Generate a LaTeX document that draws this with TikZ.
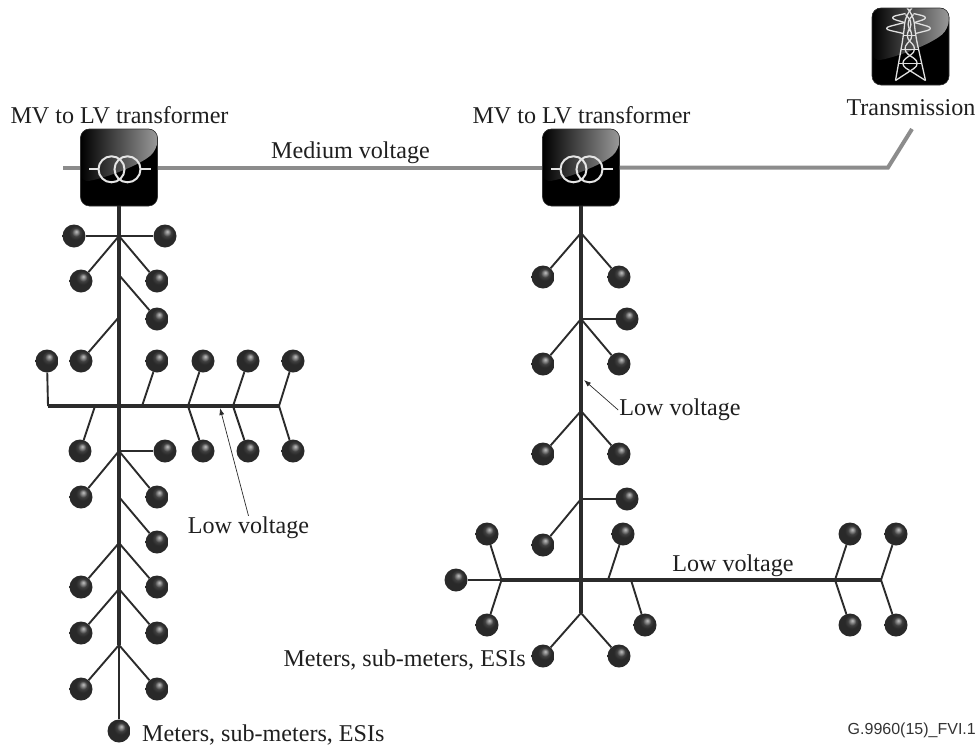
\documentclass[tikz,border=0pt]{standalone}
\usepackage{fontspec}
\setmainfont{Liberation Serif}
\newfontfamily\figid{Liberation Sans}
\usetikzlibrary{arrows.meta}
\definecolor{ink}{HTML}{2B2B2B}
\definecolor{mvgray}{HTML}{8C8C8C}
\pgfdeclareradialshading{metal}{\pgfpoint{5bp}{10bp}}{%
  color(0bp)=(black!25);color(3bp)=(black!40);color(9bp)=(black!75);color(15bp)=(black!84);color(50bp)=(black!84)}
\tikzset{
  x=1pt,y=-1pt,
  meter/.style={circle,minimum size=23pt,inner sep=0pt,shading=metal},
  trunk/.style={draw=ink,line width=3.2pt},
  branch/.style={draw=ink,line width=1.9pt},
  mvline/.style={draw=mvgray,line width=4pt,line join=miter},
  leader/.style={draw=ink,line width=0.7pt,-{Latex[length=7pt,width=5pt]}},
  lbl/.style={font=\fontsize{24.1}{26}\selectfont,text=black!88,inner sep=1pt},
  gloss/.pic={
    \fill[left color=black,right color=black!40,draw=none]
      (-38.5,15) .. controls (-12,10) and (20,-2) .. (38.5,-18)
      -- (38.5,-38.5) -- (-38.5,-38.5) -- cycle;},
  iconbox/.style={rectangle,rounded corners=9pt,minimum size=77pt,inner sep=0pt,
    fill=black,draw=black!80,line width=0.6pt},
  trafobox/.style={iconbox,path picture={
    \pic at (0,0) {gloss};
    \draw[white!90!black,line width=2pt] (-7.5,1.8) circle (13) (8.5,1.8) circle (13);
    \draw[white!90!black,line width=2pt] (-30,1.8) -- (-20.5,1.8) (21.5,1.8) -- (32,1.8);
  }},
  towerbox/.style={iconbox,path picture={
    \pic at (0,0) {gloss};
    \begin{scope}[draw=white!88!black,line width=1.3pt,line join=round]
      % legs
      \draw (-1,-36) -- (-5,-32) -- (-7,-11) -- (-15,34);
      \draw (-1,-36) -- (3,-32) -- (5,-11) -- (15,34);
      % arms
      \draw (-5,-33) -- (-23,-29) -- (-6,-24) (3,-33) -- (20,-29) -- (4,-24);
      \draw (-6,-24) -- (-29,-18) -- (-7,-13) (4,-24) -- (25,-18) -- (5,-13);
      % lattice
      \draw (-5,-32) -- (4,-22) -- (-7,-11) -- (8,3) -- (-12,17) -- (15,34);
      \draw (3,-32) -- (-6,-22) -- (5,-11) -- (-9.5,3) -- (11,17) -- (-15,34);
      \draw (-7,-11) -- (5,-11) (-9.5,3) -- (8,3) (-12,17) -- (11,17);
    \end{scope}
  }},
}
\begin{document}
\begin{tikzpicture}
\useasboundingbox (0,0) rectangle (979,747);

% icon boxes
\node[trafobox] (t1) at (119,167.5) {};
\node[trafobox] (t2) at (581,167.5) {};
\node[towerbox] (tw) at (910.5,46.5) {};

% medium voltage line
\coordinate (mvl) at (63,167.5);
\coordinate (mvk) at (888,167.5);
\coordinate (mve) at (912,129);
\draw[mvline] (mvl) -- (t1);
\draw[mvline] (t1) -- (t2);
\draw[mvline] (t2) -- (mvk) -- (mve);

% meters
\foreach \n/\x/\y in {
  a1/74/236,a2/165/236,a3/81/281,a4/157/281,a5/157/319,
  a6/47/361,a7/81/361,a8/157/361,a9/203/361,a10/248/361,a11/293/361,
  a12/80/451,a13/165/451,a14/203/451,a15/248/451,a16/293/451,
  a17/81/497,a18/157/497,a19/157/542,a20/81/587,a21/157/587,
  a22/81/633,a23/157/633,a24/81/689,a25/157/689,a26/119/731,
  b1/543/277,b2/619/277,b3/627/319,b4/543/364,b5/619/364,
  b6/543/454,b7/619/454,b8/627/499,b9/543/545,
  b10/487/534,b11/456/580,b12/487/625,b13/623/534,b14/645/625,
  b15/850/534,b16/896/534,b17/850/625,b18/896/625,b19/543/656,b20/619/656}
  {\node[meter] (\n) at (\x,\y) {};}

% junctions
\foreach \n/\x/\y in {
  ja1/119/236,ja2/119/275,ja3/119/317,ja4/119/451,ja5/119/497,ja6/119/543,ja7/119/589,ja8/119/645,
  ha0/48/406,ha1/95/406,ha2/142/406,ha3/188/406,ha4/233/406,ha5/279/406,
  jb1/581/233,jb2/581/319,jb3/581/411,jb4/581/499,jb5/581/613,
  hb1/501.5/580,hb2/608/580,hb3/631/580,hb4/835/580,hb5/881/580}
  {\coordinate (\n) at (\x,\y);}

% trunks
\draw[trunk] (t1) -- (ja8);
\draw[branch] (ja8) -- (a26);
\draw[trunk] (t2) -- (jb5);
\draw[trunk] (ha0) -- (ha5);
\draw[trunk] (hb1) -- (hb5);
\draw[branch] (b11) -- (hb1);

% branches
\foreach \j/\m in {
  ja1/a1,ja1/a2,ja1/a3,ja1/a4,ja2/a5,ja3/a7,
  ha0/a6,ha2/a8,ha3/a9,ha4/a10,ha5/a11,
  ha1/a12,ha3/a14,ha4/a15,ha5/a16,
  ja4/a13,ja4/a17,ja4/a18,ja5/a19,ja6/a20,ja6/a21,ja7/a22,ja7/a23,ja8/a24,ja8/a25,
  jb1/b1,jb1/b2,jb2/b3,jb2/b4,jb2/b5,jb3/b6,jb3/b7,jb4/b8,jb4/b9,
  hb1/b10,hb1/b12,hb2/b13,hb3/b14,hb4/b15,hb4/b17,hb5/b16,hb5/b18,jb5/b19,jb5/b20}
  {\draw[branch] (\j) -- (\m);}

% labels
\node[lbl] (l1) at (119.5,115.5) {MV to LV transformer};
\node[lbl] (l2) at (581.5,115.5) {MV to LV transformer};
\node[lbl] (l3) at (350.5,152.5) {Medium voltage};
\node[lbl] (l4) at (911,108) {Transmission};
\node[lbl] (lv1) at (248.5,528) {Low voltage};
\node[lbl] (lv2) at (680,410) {Low voltage};
\node[lbl] (lv3) at (733,566) {Low voltage};
\node[lbl,anchor=west] (m1) at (141,735) {Meters, sub-meters, ESIs};
\node[lbl,anchor=east] (m2) at (527,660) {Meters, sub-meters, ESIs};
\node[font=\figid\fontsize{16}{18}\selectfont,text=black!80,anchor=east,inner sep=0pt] (fig) at (976,730) {G.9960(15)\_FVI.1};

% leaders
\coordinate (tip1) at (220,408);
\coordinate (tip2) at (584,380);
\draw[leader] (lv1.north) -- (tip1);
\draw[leader] (lv2.west) -- (tip2);
\end{tikzpicture}
\end{document}
